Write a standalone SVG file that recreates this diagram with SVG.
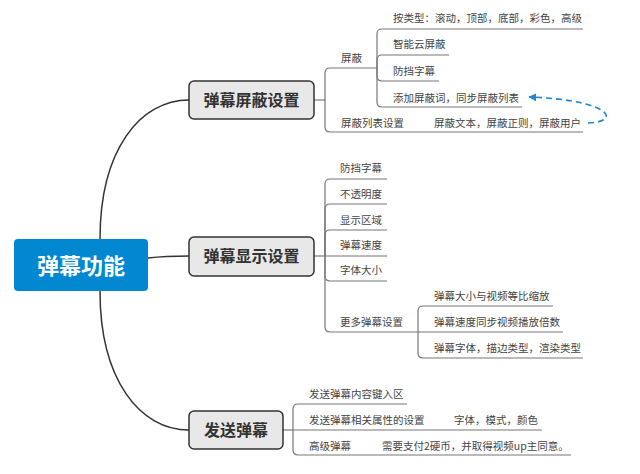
<svg xmlns="http://www.w3.org/2000/svg" width="640" height="474" viewBox="0 0 640 474">
<style>
.curve{fill:none;stroke:#333;stroke-width:1.5}
.ln{fill:none;stroke:#777;stroke-width:1.2}
.branch rect{fill:#e8e8e8;stroke:#333;stroke-width:1.5}
.branch text{font-family:"Noto Sans CJK SC","Noto Sans",sans-serif;font-size:16px;font-weight:bold;fill:#333;text-anchor:middle}
.item{font-family:"Noto Sans CJK SC","Noto Sans",sans-serif;font-size:10.5px;fill:#444}
.dash{fill:none;stroke:#1e88d6;stroke-width:1.6;stroke-dasharray:6,4}
</style>
<defs>
<marker id="ah" viewBox="0 0 10 10" refX="9" refY="5" markerWidth="8" markerHeight="8" markerUnits="userSpaceOnUse" orient="auto">
<path d="M0,0 L10,5 L0,10 Z" fill="#1e88d6"/>
</marker>
</defs>
<rect width="640" height="474" fill="#fff"/>
<g id="connectors">
<path class="curve" d="M100,239 C100,150 140,100 189,100"/>
<path class="curve" d="M148,258 C165,256 175,256 189,256"/>
<path class="curve" d="M100,291 C100,380 140,430 189,430"/>
<path class="ln" d="M314,100 H325"/>
<path class="ln" d="M325,100 V73 Q325,68 330,68 H377"/>
<path class="ln" d="M325,100 V127 Q325,132 330,132 H583"/>
<path class="ln" d="M377,68 V34 Q377,29 382,29 H583"/>
<path class="ln" d="M377,68 V60 Q377,55 382,55 H449"/>
<path class="ln" d="M377,68 V76 Q377,81 382,81 H439"/>
<path class="ln" d="M377,68 V102 Q377,107 382,107 H522"/>
<path class="ln" d="M314,256 H325"/>
<path class="ln" d="M325,256 V184 Q325,179 330,179 H387"/>
<path class="ln" d="M325,256 V209 Q325,204 330,204 H387"/>
<path class="ln" d="M325,256 V235 Q325,230 330,230 H387"/>
<path class="ln" d="M325,256 H387"/>
<path class="ln" d="M325,256 V276 Q325,281 330,281 H387"/>
<path class="ln" d="M325,256 V327 Q325,332 330,332 H418"/>
<path class="ln" d="M418,332 V311 Q418,306 423,306 H553"/>
<path class="ln" d="M418,332 H563"/>
<path class="ln" d="M418,332 V353 Q418,358 423,358 H583"/>
<path class="ln" d="M283,430 H293"/>
<path class="ln" d="M293,430 V409 Q293,404 298,404 H407"/>
<path class="ln" d="M293,430 H542"/>
<path class="ln" d="M293,430 V450 Q293,455 298,455 H571"/>
<path class="dash" d="M588,123 C622,122 612,100 529,97" marker-end="url(#ah)"/>
</g>
<g id="root">
<rect x="14" y="239" width="134" height="52" rx="4" fill="#0288d1"/>
<text x="81" y="273.5" font-family="Noto Sans CJK SC,Noto Sans,sans-serif" font-size="22" font-weight="bold" fill="#fff" text-anchor="middle">弹幕功能</text>
</g>
<g id="b1" class="branch">
<rect x="189" y="81" width="125" height="38" rx="5"/>
<text x="251.5" y="106">弹幕屏蔽设置</text>
</g>
<g id="b2" class="branch">
<rect x="189" y="237" width="125" height="39" rx="5"/>
<text x="251.5" y="262">弹幕显示设置</text>
</g>
<g id="b3" class="branch">
<rect x="189" y="411" width="94" height="38" rx="5"/>
<text x="236" y="436">发送弹幕</text>
</g>
<g id="b1-items">
<text class="item" x="341" y="62">屏蔽</text>
<text class="item" x="341" y="127">屏蔽列表设置</text>
<text class="item" x="434" y="127">屏蔽文本，屏蔽正则，屏蔽用户</text>
<text class="item" x="393" y="22">按类型：滚动，顶部，底部，彩色，高级</text>
<text class="item" x="393" y="48">智能云屏蔽</text>
<text class="item" x="393" y="75">防挡字幕</text>
<text class="item" x="393" y="102">添加屏蔽词，同步屏蔽列表</text>
</g>
<g id="b2-items">
<text class="item" x="340" y="172">防挡字幕</text>
<text class="item" x="340" y="198">不透明度</text>
<text class="item" x="340" y="224">显示区域</text>
<text class="item" x="340" y="249">弹幕速度</text>
<text class="item" x="340" y="274">字体大小</text>
<text class="item" x="340" y="326">更多弹幕设置</text>
<text class="item" x="434" y="300">弹幕大小与视频等比缩放</text>
<text class="item" x="434" y="326">弹幕速度同步视频播放倍数</text>
<text class="item" x="434" y="352">弹幕字体，描边类型，渲染类型</text>
</g>
<g id="b3-items">
<text class="item" x="309" y="398">发送弹幕内容键入区</text>
<text class="item" x="309" y="424">发送弹幕相关属性的设置</text>
<text class="item" x="454" y="424">字体，模式，颜色</text>
<text class="item" x="309" y="450">高级弹幕</text>
<text class="item" x="382" y="450">需要支付2硬币，并取得视频up主同意。</text>
</g>
</svg>
